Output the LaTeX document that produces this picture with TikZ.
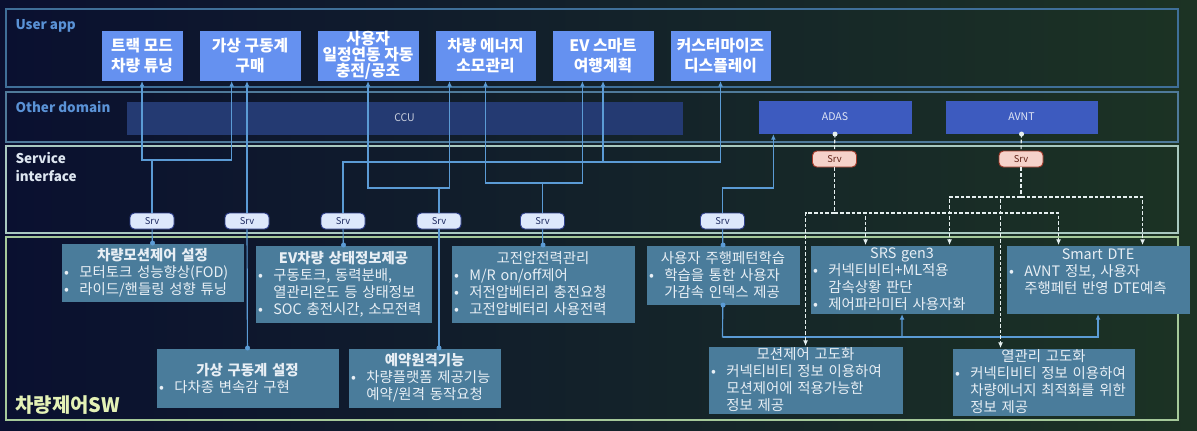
\documentclass[tikz,border=0pt]{standalone}
\usepackage{fontspec}
\setmainfont{Noto Sans CJK KR}
\usetikzlibrary{arrows.meta,positioning}

\definecolor{bgnavy}{HTML}{0A1030}
\definecolor{bgmid}{HTML}{0D182C}
\definecolor{bggreen}{HTML}{1C3324}
\definecolor{appblue}{HTML}{6591F0}
\definecolor{ccublue}{HTML}{243A72}
\definecolor{domblue}{HTML}{3D5BBF}
\definecolor{swfill}{HTML}{4A7C9B}
\definecolor{swtext}{HTML}{E8EFF5}
\definecolor{linkblue}{HTML}{5B9BD5}
\definecolor{dashwhite}{HTML}{E6F0F0}
\definecolor{srvfill}{HTML}{DDE8FB}
\definecolor{srvline}{HTML}{2E3F8C}
\definecolor{srvpink}{HTML}{F5D2CA}
\definecolor{srvred}{HTML}{A33A2A}
\definecolor{labblue}{HTML}{5A92D6}
\definecolor{labwhite}{HTML}{DDE6F0}
\definecolor{labgreen}{HTML}{E4F2B6}
\definecolor{bandapp}{HTML}{3F6F98}
\definecolor{banddom}{HTML}{4F7A9A}
\definecolor{bandsrv}{HTML}{A9C9C0}
\definecolor{bandsw}{HTML}{A5C99A}

\newcommand{\itm}{\makebox[1.05em][l]{•}}
\newcommand{\cnt}{\hspace*{1.05em}}
\newcommand{\ttl}[1]{\makebox[\linewidth][c]{#1}}

\tikzset{
    appbox/.style = {fill = appblue, text = white, anchor = north west,
        minimum width = #1*0.3mm, minimum height = 15mm, align = center,
        inner sep = 0pt, font = \fontsize{13.5}{17}\selectfont\bfseries},
    swbox/.style 2 args = {fill = swfill, text = swtext, anchor = north west,
        inner xsep = 0.8mm, inner ysep = 0pt, align = left,
        text width = #1*0.3mm-1.6mm, minimum height = #2*0.3mm,
        font = \fontsize{12.3}{14.5}\selectfont}
}

\begin{document}
\begin{tikzpicture}[
        x = 0.3mm, y = -0.3mm, % one unit = one pixel of the sketch
        > = {Latex[length=1.7mm, width=1.5mm]},
        line width = 0.9pt
    ]

    \tikzstyle{dombox}=[
        anchor = north west,
        minimum height = 33*0.3mm,
        inner sep = 0pt,
        text = white!85!domblue,
        font = \fontsize{9}{11}\selectfont
    ]
    \tikzstyle{srv}=[
        draw = srvline,
        fill = srvfill,
        text = srvline!70!black,
        rounded corners = 1.3mm,
        minimum width = 13.2mm,
        minimum height = 4.8mm,
        inner sep = 0pt,
        line width = 0.8pt,
        font = \fontsize{8}{9}\selectfont
    ]
    \tikzstyle{srvext}=[srv, draw = srvred, fill = srvpink, text = srvred!60!black]
    \tikzstyle{link}=[draw = linkblue, line width = 1pt]
    \tikzstyle{dlink}=[draw = dashwhite, line width = 0.9pt, dash pattern = on 1.1mm off 0.6mm]

    % background and layers
    \useasboundingbox (0,0) rectangle (1197,430);
    \shade[left color = bgnavy, middle color = bgmid, right color = bggreen] (0,0) rectangle (1197,430);
    \draw[bandapp] (6,9) rectangle (1178,87);
    \draw[banddom] (6,92) rectangle (1178,142);
    \draw[bandsrv] (6,146) rectangle (1178,233);
    \draw[bandsw] (6,237) rectangle (1178,420);

    \node[anchor = base west, inner sep = 0pt, text = labblue,
        font = \fontsize{11.5}{14}\selectfont\bfseries] (labApp) at (15,29) {User app};
    \node[anchor = base west, inner sep = 0pt, text = labblue,
        font = \fontsize{11.5}{14}\selectfont\bfseries] (labDom) at (15,112) {Other domain};
    \node[anchor = north west, inner sep = 0pt, text = labwhite, align = left,
        font = \fontsize{11.5}{15.5}\selectfont\bfseries] (labSrv) at (15,152) {Service\\interface};
    \node[anchor = base west, inner sep = 0pt, text = labgreen,
        font = \fontsize{17}{19}\selectfont\bfseries] (labSw) at (15,412) {차량제어SW};

    % user apps
    \node[appbox=81] (appTrack) at (101,30) {트랙 모드\\차량 튜닝};
    \node[appbox=101] (appBuy) at (199,30) {가상 구동계\\구매};
    \node[appbox=101, font = \fontsize{13.5}{13.8}\selectfont\bfseries] (appSched) at (317,30) {사용자\\일정연동 자동\\충전/공조};
    \node[appbox=100] (appEnergy) at (435,30) {차량 에너지\\소모관리};
    \node[appbox=101] (appTrip) at (552,30) {EV 스마트\\여행계획};
    \node[appbox=100] (appDisp) at (670,30) {커스터마이즈\\디스플레이};

    % other domains
    \node[dombox, fill = ccublue, minimum width = 556*0.3mm, text = white!75!ccublue] (ccu) at (126,101) {CCU};
    \node[dombox, fill = domblue, minimum width = 153*0.3mm] (adas) at (758,100) {ADAS};
    \node[dombox, fill = domblue, minimum width = 152*0.3mm] (avnt) at (945,100) {AVNT};

    % services
    \node[srv] (s1) at (152,221) {Srv};
    \node[srv] (s2) at (247,221) {Srv};
    \node[srv] (s3) at (343,221) {Srv};
    \node[srv] (s4) at (439,221) {Srv};
    \node[srv] (s5) at (542.5,221) {Srv};
    \node[srv] (s6) at (722.5,221) {Srv};
    \node[srvext] (sA) at (834.5,159) {Srv};
    \node[srvext] (sV) at (1021,159) {Srv};

    % vehicle control sw
    \node[swbox={182}{58}] (mset) at (61,243)
        {\ttl{\bfseries 차량모션제어 설정}\\ \itm 모터토크 성능향상(FOD)\\ \itm 라이드/핸들링 성향 튜닝};
    \node[swbox={182}{59}] (vset) at (156,348)
        {\ttl{\bfseries 가상 구동계 설정}\\ \itm 다차종 변속감 구현};
    \node[swbox={176}{77}] (evst) at (255,245)
        {\ttl{\bfseries EV차량 상태정보제공}\\ \itm 구동토크, 동력분배,\\ \cnt 열관리온도 등 상태정보\\ \itm SOC 충전시간, 소모전력};
    \node[swbox={152}{59}] (rsv) at (348,348)
        {\ttl{\bfseries 예약원격기능}\\ \itm 차량플랫폼 제공기능\\ \cnt 예약/원격 동작요청};
    \node[swbox={183}{77}] (hv) at (451,245)
        {\ttl{고전압전력관리}\\ \itm M/R on/off제어\\ \itm 저전압베터리 충전요청\\ \itm 고전압베터리 사용전력};
    \node[swbox={153}{59}] (usr) at (646,245)
        {\ttl{사용자 주행페턴학습}\\ \itm 학습을 통한 사용자\\ \cnt 가감속 인덱스 제공};
    \node[swbox={183}{68}] (srs) at (810,245)
        {\ttl{SRS gen3}\\ \itm 커넥티비티+ML적용\\ \cnt 감속상황 판단\\ \itm 제어파라미터 사용자화};
    \node[swbox={183}{68}] (dte) at (1006,245)
        {\ttl{Smart DTE}\\ \itm AVNT 정보, 사용자\\ \cnt 주행페턴 반영 DTE예측\\ \mbox{}};
    \node[swbox={194}{67}] (mca) at (708,346)
        {\ttl{모션제어 고도화}\\ \itm 커넥티비티 정보 이용하여\\ \cnt 모션제어에 적용가능한\\ \cnt 정보 제공};
    \node[swbox={182}{67}] (thm) at (952,348)
        {\ttl{열관리 고도화}\\ \itm 커넥티비티 정보 이용하여\\ \cnt 차량에너지 최적화를 위한\\ \cnt 정보 제공};

    % junctions
    \coordinate (j1) at (152,160);
    \coordinate (j3) at (343,162);
    \coordinate (j4) at (439,188);
    \coordinate (j5) at (542.5,183);
    \coordinate (j6) at (722.5,188);
    \coordinate (j7) at (722.5,337);
    \coordinate (ja) at (834.5,213);
    \coordinate (jv) at (1021,197);

    % services up to apps
    \draw[link, ->] (s1) -- (j1) -| (appTrack);
    \draw[link, ->] (j1) -| ([xshift=-5.5mm]appBuy.south);
    \draw[link, ->] (s2) -- (s2 |- appBuy.south);
    \draw[link, ->] (s3) -- (j3) -| (appDisp);
    \draw[link, ->] (j3) -| (appTrip);
    \draw[link, ->] (s4) -- (j4) -| (appSched);
    \draw[link, ->] (j4) -| ([xshift=-10.8mm]appEnergy.south);
    \draw[link, ->] (s5) -- (j5) -| (appEnergy);
    \draw[link, ->] (j5) -| ([xshift=-6.2mm]appTrip.south);
    \draw[link, ->] (s6) -- (j6) -| ([xshift=-18.5mm]adas.south);

    % services down to sw
    \draw[link] (s1) -- (mset);
    \draw[link] (s2) -- (vset);
    \draw[link] (s3) -- (evst);
    \draw[link] (s4) -- (s4 |- rsv.north);
    \draw[link] (s5) -- (hv);
    \draw[link] (s6) -- (usr);
    \draw[link, ->] (usr) -- (j7) -| (srs);
    \draw[link, ->] (j7) -| (dte);
    \foreach \p in {mset.north, vset.north, evst.north, hv.north, usr.north, usr.south}
        \fill[linkblue] (\p) circle[radius=0.75mm];
    \fill[linkblue] (s4 |- rsv.north) circle[radius=0.75mm];

    % adas / avnt services
    \draw[dlink] (adas) -- (sA);
    \draw[dlink] (sA) -- (ja);
    \draw[dlink, ->, dashwhite] (ja) -| (mca);
    \draw[dlink, ->, dashwhite] (ja) -| ([xshift=-10.95mm]srs.north);
    \draw[dlink, ->, dashwhite] (ja) -| ([xshift=-11.85mm]dte.north);
    \draw[dlink] (avnt) -- (sV);
    \draw[dlink] (sV) -- (jv);
    \draw[dlink, ->, dashwhite] (jv) -| ([xshift=-12.9mm]thm.north);
    \draw[dlink, ->, dashwhite] (jv) -| ([xshift=14.25mm]srs.north);
    \draw[dlink, ->, dashwhite] (jv) -| ([xshift=13.35mm]dte.north);
    \fill[dashwhite] (adas.south) circle[radius=0.75mm];
    \fill[dashwhite] (avnt.south) circle[radius=0.75mm];

\end{tikzpicture}
\end{document}
